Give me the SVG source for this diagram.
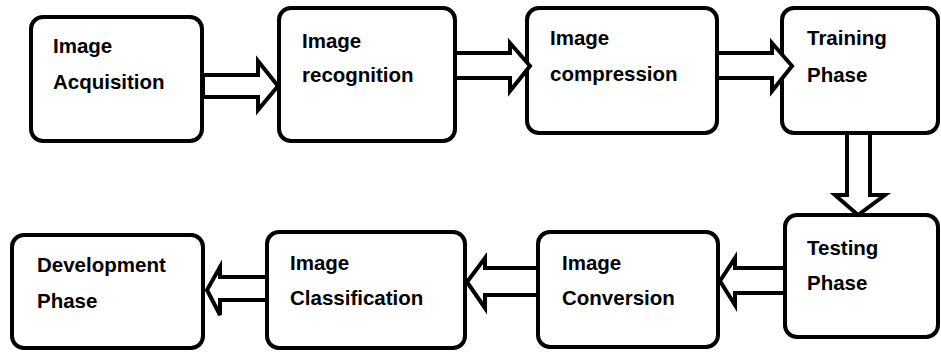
<svg xmlns="http://www.w3.org/2000/svg" width="941" height="352" viewBox="0 0 941 352">
  <style>
    .box { fill: #fff; stroke: #000; stroke-width: 4; }
    .arrow { fill: #fff; stroke: #000; stroke-width: 4; stroke-linejoin: miter; }
    .lbl { font-family: "Liberation Sans", Arial, sans-serif; font-weight: bold; font-size: 20.5px; fill: #000; }
  </style>
  <rect width="941" height="352" fill="#fff"/>

  <g id="node-acquisition">
    <rect class="box" x="31" y="17" width="171" height="124" rx="12"/>
    <text class="lbl" x="53" y="53">Image</text>
    <text class="lbl" x="53" y="89">Acquisition</text>
  </g>
  <g id="node-recognition">
    <rect class="box" x="279" y="8" width="176" height="133" rx="12"/>
    <text class="lbl" x="302" y="48">Image</text>
    <text class="lbl" x="302" y="82">recognition</text>
  </g>
  <g id="node-compression">
    <rect class="box" x="527" y="8" width="190" height="125" rx="12"/>
    <text class="lbl" x="550" y="45">Image</text>
    <text class="lbl" x="550" y="81">compression</text>
  </g>
  <g id="node-training">
    <rect class="box" x="782" y="8" width="156" height="125" rx="12"/>
    <text class="lbl" x="807" y="45">Training</text>
    <text class="lbl" x="807" y="82">Phase</text>
  </g>
  <g id="node-testing">
    <rect class="box" x="785" y="215" width="153" height="122" rx="12"/>
    <text class="lbl" x="807" y="255">Testing</text>
    <text class="lbl" x="807" y="290">Phase</text>
  </g>
  <g id="node-conversion">
    <rect class="box" x="538" y="232" width="180" height="115" rx="12"/>
    <text class="lbl" x="562" y="270">Image</text>
    <text class="lbl" x="562" y="305">Conversion</text>
  </g>
  <g id="node-classification">
    <rect class="box" x="267" y="232" width="198" height="116" rx="12"/>
    <text class="lbl" x="290" y="270">Image</text>
    <text class="lbl" x="290" y="305">Classification</text>
  </g>
  <g id="node-development">
    <rect class="box" x="12" y="235" width="191" height="113" rx="12"/>
    <text class="lbl" x="37" y="272">Development</text>
    <text class="lbl" x="37" y="308">Phase</text>
  </g>

  <g id="connectors">
    <polygon class="arrow" points="203,75 258,75 258,61 278,86 258,110 258,97 203,97"/>
    <polygon class="arrow" points="455,53 510,53 510,43 530,66 510,91 510,78 455,78"/>
    <polygon class="arrow" points="717,53 772,53 772,43 792,66 772,91 772,78 717,78"/>
    <polygon class="arrow" points="847,133 847,195 835,195 858,215 885,195 870,195 870,133"/>
    <polygon class="arrow" points="785,268 735,268 735,258 720,281 735,305 735,293 785,293"/>
    <polygon class="arrow" points="538,268 485,268 485,258 467,282 485,308 485,295 538,295"/>
    <polygon class="arrow" points="267,277 220,277 220,267 207,290 220,315 220,300 267,300"/>
  </g>
</svg>
